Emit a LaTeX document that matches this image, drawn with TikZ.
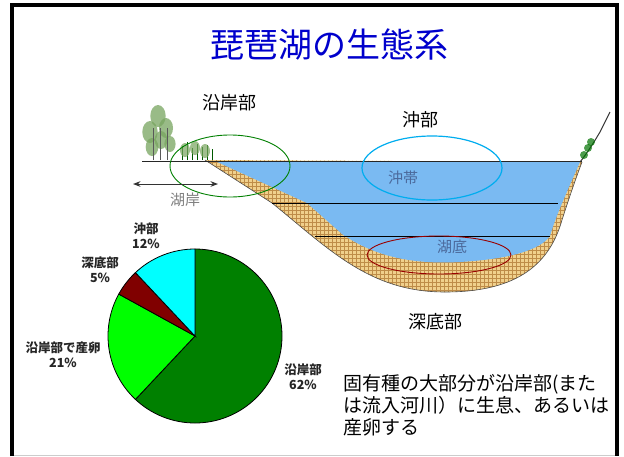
\documentclass[tikz,border=0pt]{standalone}
\usepackage{fontspec}
\newfontfamily\jp{Noto Sans CJK JP}
\usetikzlibrary{arrows.meta}

\definecolor{titleblue}{RGB}{0,0,204}
\definecolor{water}{RGB}{122,186,242}
\definecolor{mud}{RGB}{240,208,140}
\definecolor{mudline}{RGB}{190,140,72}
\definecolor{faded}{RGB}{75,105,155}
\definecolor{leaf}{RGB}{120,165,95}
\definecolor{piedark}{RGB}{0,128,0}
\definecolor{pielight}{RGB}{0,255,0}
\definecolor{piered}{RGB}{128,0,0}
\definecolor{piecyan}{RGB}{0,255,255}

\tikzset{
  zone/.style={font=\jp\fontsize{18}{18}\selectfont},
  inlake/.style={font=\jp\fontsize{15}{15}\selectfont, text=faded},
  pielabel/.style={font=\jp\bfseries\fontsize{12.5}{15}\selectfont, align=center, text=black!85},
}

\begin{document}
\begin{tikzpicture}[x=1pt,y=-1pt]
  \useasboundingbox (0,0) rectangle (624,456);
  \fill[white] (0,0) rectangle (624,456);

  % slide frame
  \draw[gray!40] (12,455) -- (617,455);
  \draw[line width=4] (12,456) -- (12,5) -- (617,5) -- (617,456);

  \node[font=\jp\fontsize{34}{34}\selectfont, text=titleblue] (title) at (329,45) {琵琶湖の生態系};

  % lake bed (sediment)
  \begin{scope}
    \clip (205,160) -- (272,203) .. controls (330,250) and (370,292) .. (445,292)
      .. controls (520,292) and (550,262) .. (562,220)
      .. controls (570,195) and (576,178) .. (582,162) -- cycle;
    \fill[mud] (200,150) rectangle (590,300);
    \foreach \i in {0,...,97}
      \draw[mudline, line width=0.5] (200+4*\i,150) -- ++(0,150);
    \foreach \i in {0,...,37}
      \draw[mudline, line width=0.5] (200,150+4*\i) -- ++(390,0);
  \end{scope}
  \draw[gray!60!black, line width=0.6] (205,160) -- (272,203)
    .. controls (330,250) and (370,292) .. (445,292)
    .. controls (520,292) and (550,262) .. (562,220)
    .. controls (570,195) and (576,178) .. (582,162);

  % water body
  \fill[water] (215,161) -- (307,203) -- (342,234)
    .. controls (380,260) and (420,264) .. (460,262)
    .. controls (510,259) and (540,250) .. (550,236)
    .. controls (556,215) and (570,185) .. (580,162) -- cycle;

  % layer lines
  \draw[line width=0.8] (272,203) -- (558,203);
  \draw[line width=0.8] (315,236) -- (550,236);

  % shore and surface
  \draw[gray!30!black, line width=0.9] (142,161) -- (582,161);
  \draw[gray!40!black, line width=1] (580,162) .. controls (588,152) and (594,142) .. (600,132) -- (610,112);

  % trees on the left shore
  \foreach \x/\y/\r in {150/132/11, 158/116/11, 166/128/10, 152/147/9, 170/144/8, 161/140/9}
    \fill[leaf, opacity=0.75] (\x,\y) ellipse[x radius=0.7*\r, y radius=\r];
  \foreach \x in {153,160,167}
    \draw[gray!70!black, line width=0.6] (\x,160) -- (\x,128);
  \foreach \x/\h in {182/14,187/18,192/12,197/16,202/13,207/15,212/11}
    \draw[green!35!black, line width=0.8] (\x,160) -- (\x,160-\h);
  \foreach \x/\y in {185/150,195/148,205/151}
    \fill[leaf, opacity=0.7] (\x,\y) ellipse[x radius=5, y radius=7];

  % bush on the right bank
  \foreach \x/\y in {584/155,588/148,591/142}
    \fill[green!45!black, opacity=0.7] (\x,\y) circle[radius=4];

  % zones
  \draw[green!50!black, line width=0.9] (230,166) ellipse[x radius=60, y radius=31];
  \draw[cyan, line width=1.2] (432,168) ellipse[x radius=70, y radius=32];
  \draw[red!60!black, line width=0.9] (439,255) ellipse[x radius=72, y radius=19];

  \draw[{Stealth}-{Stealth}, gray!40!black, line width=1] (133,184) -- (218,184);

  \node[zone] (shore) at (229,103) {沿岸部};
  \node[zone] (offshore) at (420,120) {沖部};
  \node[zone] (deep) at (435,322) {深底部};
  \node[inlake] (pelagic) at (403,178) {沖帯};
  \node[inlake] (benthic) at (452,247) {湖底};
  \node[inlake, text=gray] (beach) at (185,200) {湖岸};

  % pie chart
  \begin{scope}[shift={(195,336)}, yscale=-1]
    \foreach \a/\b/\c in {90/-133.2/piedark, -133.2/-208.8/pielight,
                          -208.8/-226.8/piered, -226.8/-270/piecyan}
      \filldraw[fill=\c, draw=black, line width=0.8]
        (0,0) -- (\a:87) arc[start angle=\a, end angle=\b, radius=87] -- cycle;
  \end{scope}

  \node[pielabel] (pshore) at (303,377) {沿岸部\\62\%};
  \node[pielabel] (pspawn) at (63,355) {沿岸部で産卵\\21\%};
  \node[pielabel] (pdeep) at (100,270) {深底部\\5\%};
  \node[pielabel] (poff) at (146,236) {沖部\\12\%};

  \node[anchor=west, align=left, font=\jp\fontsize{19}{22}\selectfont] (note) at (340,405)
    {固有種の大部分が沿岸部(また\\は流入河川）に生息、あるいは\\産卵する};
\end{tikzpicture}
\end{document}
